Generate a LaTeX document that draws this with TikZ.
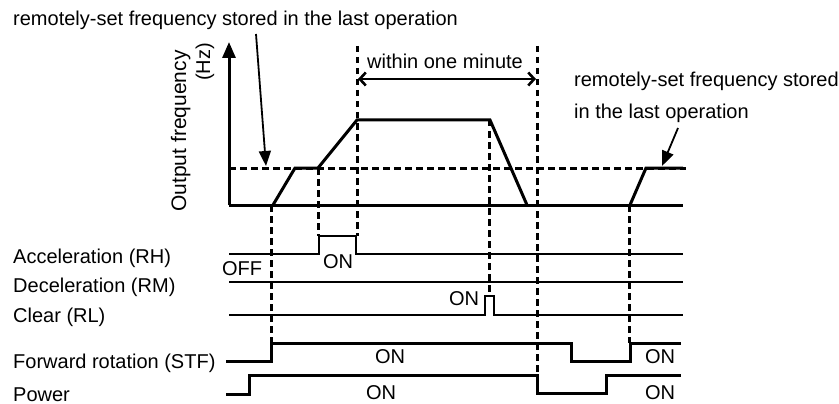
\documentclass[tikz,border=0pt]{standalone}
\usepackage{fontspec}
\setmainfont{Liberation Sans}
\usetikzlibrary{arrows.meta}
\begin{document}
\begin{tikzpicture}[x=1pt,y=-1pt,
  txt/.style={inner sep=0pt,font=\fontsize{20}{24}\selectfont},
  thick line/.style={line width=3pt,line join=miter,line cap=butt},
  sig/.style={line width=2.5pt,line join=miter},
  dash line/.style={line width=3pt,dash pattern=on 6.5pt off 4.5pt},
  pointer/.style={line width=1.8pt,-{Triangle[length=15pt,width=12pt]}},
  span arrow/.style={line width=2.6pt,{Straight Barb[length=6pt,width=13pt]}-{Straight Barb[length=6pt,width=13pt]}}]
\useasboundingbox (0,0) rectangle (839,404);

% ---------- texts ----------
\node[txt,anchor=base west] (toplabel) at (13,26) {remotely-set frequency stored in the last operation};
\node[txt,anchor=base west] (rlab1) at (574,87) {remotely-set frequency stored};
\node[txt,anchor=base west] (rlab2) at (574,118) {in the last operation};
\node[txt,anchor=base west] (within) at (367,69) {within one minute};
\node[txt,anchor=base,rotate=90,font=\fontsize{21}{24}\selectfont] (ylab) at (186,131) {Output frequency};
\node[txt,anchor=base,rotate=90] (hz) at (210,62) {(Hz)};

\node[txt,anchor=base west] (lrh) at (13,263) {Acceleration (RH)};
\node[txt,anchor=base west] (lrm) at (13,292) {Deceleration (RM)};
\node[txt,anchor=base west] (lrl) at (13,322) {Clear (RL)};
\node[txt,anchor=base west] (lstf) at (13,368) {Forward rotation (STF)};
\node[txt,anchor=base west] (lpow) at (13,401) {Power};

\node[txt,anchor=base] (off) at (242,275) {OFF};
\node[txt,anchor=base] (onrh) at (338,268) {ON};
\node[txt,anchor=base] (onrl) at (464,305) {ON};
\node[txt,anchor=base] (onstf) at (390,363) {ON};
\node[txt,anchor=base] (onstf2) at (660,363) {ON};
\node[txt,anchor=base] (onpow) at (381,399) {ON};
\node[txt,anchor=base] (onpow2) at (660,399) {ON};

% ---------- graph ----------
\coordinate (origin) at (229,205);
\coordinate (ytop) at (229,42);
\coordinate (xend) at (683,205);
\draw[thick line,-{Triangle[length=16pt,width=13pt]}] (origin) -- (ytop);
\draw[thick line] (origin) -- (xend);
\draw[dash line] (229,168) -- (686,168);

\draw[thick line] (273,205) -- (295,168) -- (318,168) -- (357,120) -- (490,120) -- (527,205);
\draw[thick line] (630,205) -- (646,168) -- (683,168);

% vertical dashed guides
\draw[dash line] (271,205) -- (271,343);
\draw[dash line] (318,168) -- (318,236);
\draw[dash line] (357,46) -- (357,236);
\draw[dash line] (489,120) -- (489,292);
\draw[dash line] (537,46) -- (537,375);
\draw[dash line] (629,205) -- (629,343);

% span arrow
\coordinate (spanL) at (358,79);
\coordinate (spanR) at (536,79);
\draw[span arrow] (spanL) -- (spanR);

% pointers
\coordinate (p1s) at (256,34);
\coordinate (p1e) at (266,166);
\draw[pointer] (p1s) -- (p1e);
\coordinate (p2s) at (678,128);
\coordinate (p2e) at (662,166);
\draw[pointer] (p2s) -- (p2e);

% ---------- signals ----------
\draw[sig] (229,254) -- (319,254) -- (319,236) -- (356,236) -- (356,254) -- (683,254);
\draw[sig] (229,282) -- (683,282);
\draw[sig] (229,315) -- (485,315) -- (485,296) -- (494,296) -- (494,315) -- (683,315);
\draw[thick line] (226,361) -- (271,361) -- (271,343) -- (571,343) -- (571,361) -- (630,361) -- (630,343) -- (681,343);
\draw[thick line] (226,394) -- (249,394) -- (249,375) -- (537,375) -- (537,393) -- (606,393) -- (606,375) -- (681,375);
\end{tikzpicture}
\end{document}
